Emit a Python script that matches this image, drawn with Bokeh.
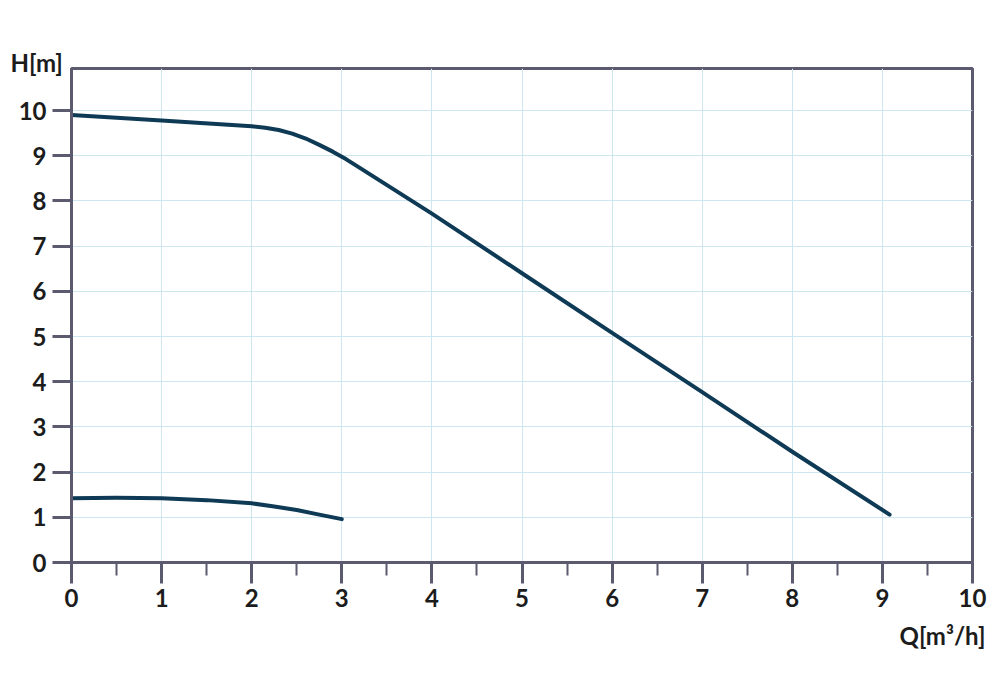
from bokeh.plotting import figure
from bokeh.models import SingleIntervalTicker, Title, Range1d
from bokeh.embed import file_html
from bokeh.resources import INLINE

# Data
q_high = [0, 1, 2, 2.15, 2.3, 2.45, 2.6, 2.75, 2.9, 3.05, 3.2, 4, 5, 6, 7, 8, 9.08]
h_high = [9.9, 9.78, 9.65, 9.62, 9.57, 9.49, 9.38, 9.24, 9.09, 8.92, 8.73, 7.72, 6.4, 5.08, 3.77, 2.45, 1.06]
q_low = [0, 0.5, 1, 1.5, 2, 2.25, 2.5, 2.75, 3]
h_low = [1.42, 1.43, 1.42, 1.38, 1.31, 1.24, 1.16, 1.06, 0.96]
y_title = "H[m]"
x_title = "Q[m³/h]"

FONT = "Lato"
TXT = "#1c1c1c"
AX = "#5b5a6e"
GRID = "#cde6ef"
CURVE = "#0e3a56"

p = figure(width=1000, height=690, output_backend="svg", toolbar_location=None,
           x_range=Range1d(0, 10), y_range=Range1d(0, 10.93),
           min_border_left=71, min_border_right=28, min_border_top=68, min_border_bottom=128)

p.outline_line_color = AX
p.outline_line_width = 3
p.background_fill_color = "white"
p.border_fill_color = "white"

p.xaxis.ticker = SingleIntervalTicker(interval=1, num_minor_ticks=2)
p.yaxis.ticker = SingleIntervalTicker(interval=1, num_minor_ticks=0)

for ax in (p.xaxis[0], p.yaxis[0]):
    ax.axis_line_color = AX
    ax.axis_line_width = 3
    ax.major_tick_line_color = AX
    ax.major_tick_line_width = 3
    ax.minor_tick_line_color = AX
    ax.minor_tick_line_width = 2
    ax.major_tick_in = 0
    ax.minor_tick_in = 0
    ax.major_label_text_font = FONT
    ax.major_label_text_font_style = "bold"
    ax.major_label_text_font_size = "24px"
    ax.major_label_text_color = TXT

p.xaxis.major_tick_out = 21
p.xaxis.minor_tick_out = 13
p.xaxis.major_label_standoff = 5
p.yaxis.major_tick_out = 19
p.yaxis.minor_tick_out = 0
p.yaxis.major_label_standoff = 6

p.xgrid.ticker = SingleIntervalTicker(interval=1)
p.ygrid.ticker = SingleIntervalTicker(interval=1)
p.grid.grid_line_color = GRID
p.grid.grid_line_width = 1

p.line(q_high, h_high, line_color=CURVE, line_width=4, line_cap="round", line_join="round")
p.line(q_low, h_low, line_color=CURVE, line_width=4, line_cap="round", line_join="round")

p.add_layout(Title(text=y_title, align="left", offset=-61, standoff=-16, text_font=FONT,
                   text_font_style="bold", text_font_size="24px", text_color=TXT), "above")
p.add_layout(Title(text=x_title, align="right", offset=-13, standoff=18, text_font=FONT,
                   text_font_style="bold", text_font_size="24px", text_color=TXT), "below")

open("out.html", "w").write(file_html(p, INLINE))
